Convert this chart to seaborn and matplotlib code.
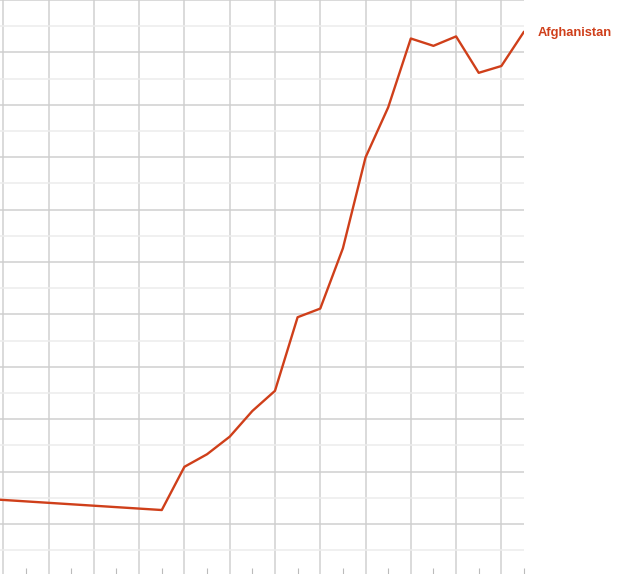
import matplotlib
matplotlib.use("Agg")
import matplotlib.pyplot as plt
import seaborn as sns
import pandas as pd
import numpy as np
from matplotlib.ticker import MultipleLocator, FixedLocator

# Data (arbitrary units, e.g. GDP in billions)
years = [1993, 2001, 2002, 2003, 2004, 2005, 2006, 2007, 2008, 2009,
         2010, 2011, 2012, 2013, 2014, 2015, 2016, 2017]
values = [2.97, 2.53, 4.18, 4.66, 5.33, 6.31, 7.08, 9.89, 10.22, 12.52,
          15.99, 17.90, 20.53, 20.25, 20.61, 19.22, 19.48, 20.79]
country = "Afghanistan"

df = pd.DataFrame({"year": years, "value": values, "country": country})

sns.set_theme(style="white")
plt.rcParams['font.family'] = ['Liberation Sans', 'DejaVu Sans']

line_color = "#cf3f1a"

fig = plt.figure(figsize=(6.4, 5.74), dpi=100)
# axes extends a little beyond the left edge of the figure (cropped chart)
ax = fig.add_axes([-30 / 640, 0.0, 554 / 640, 1.0])

sns.lineplot(data=df, x="year", y="value", ax=ax, color=line_color,
             linewidth=1.7, legend=False)

# axis ranges
ax.set_xlim(1992.529, 2017.0)
ax.set_ylim(0.088, 22.0)

# grid: vertical at even years, horizontal major/minor
ax.xaxis.set_major_locator(FixedLocator(list(range(1994, 2017, 2))))
ax.xaxis.set_minor_locator(FixedLocator(list(range(1995, 2018, 2))))
ax.yaxis.set_major_locator(MultipleLocator(2))
ax.yaxis.set_minor_locator(MultipleLocator(1))

ax.grid(True, which="major", axis="x", color="#d8d8d8", linewidth=1.3)
ax.grid(True, which="major", axis="y", color="#cfcfcf", linewidth=1.1)
ax.grid(True, which="minor", axis="y", color="#ececec", linewidth=1.1)
ax.set_axisbelow(True)

ax.tick_params(axis="x", which="major", length=0, labelbottom=False)
ax.tick_params(axis="x", which="minor", direction="in", length=4,
               width=0.8, color="#bbbbbb", bottom=True, labelbottom=False)
ax.tick_params(axis="y", which="both", length=0, labelleft=False)

for s in ax.spines.values():
    s.set_visible(False)
ax.set_xlabel("")
ax.set_ylabel("")

# end label
ax.annotate(country, xy=(years[-1], values[-1]), xytext=(14, -1),
            textcoords="offset pixels", ha="left", va="center",
            color=line_color, fontsize=9.3, fontweight="bold",
            annotation_clip=False)

fig.savefig("out.png", dpi=100)
